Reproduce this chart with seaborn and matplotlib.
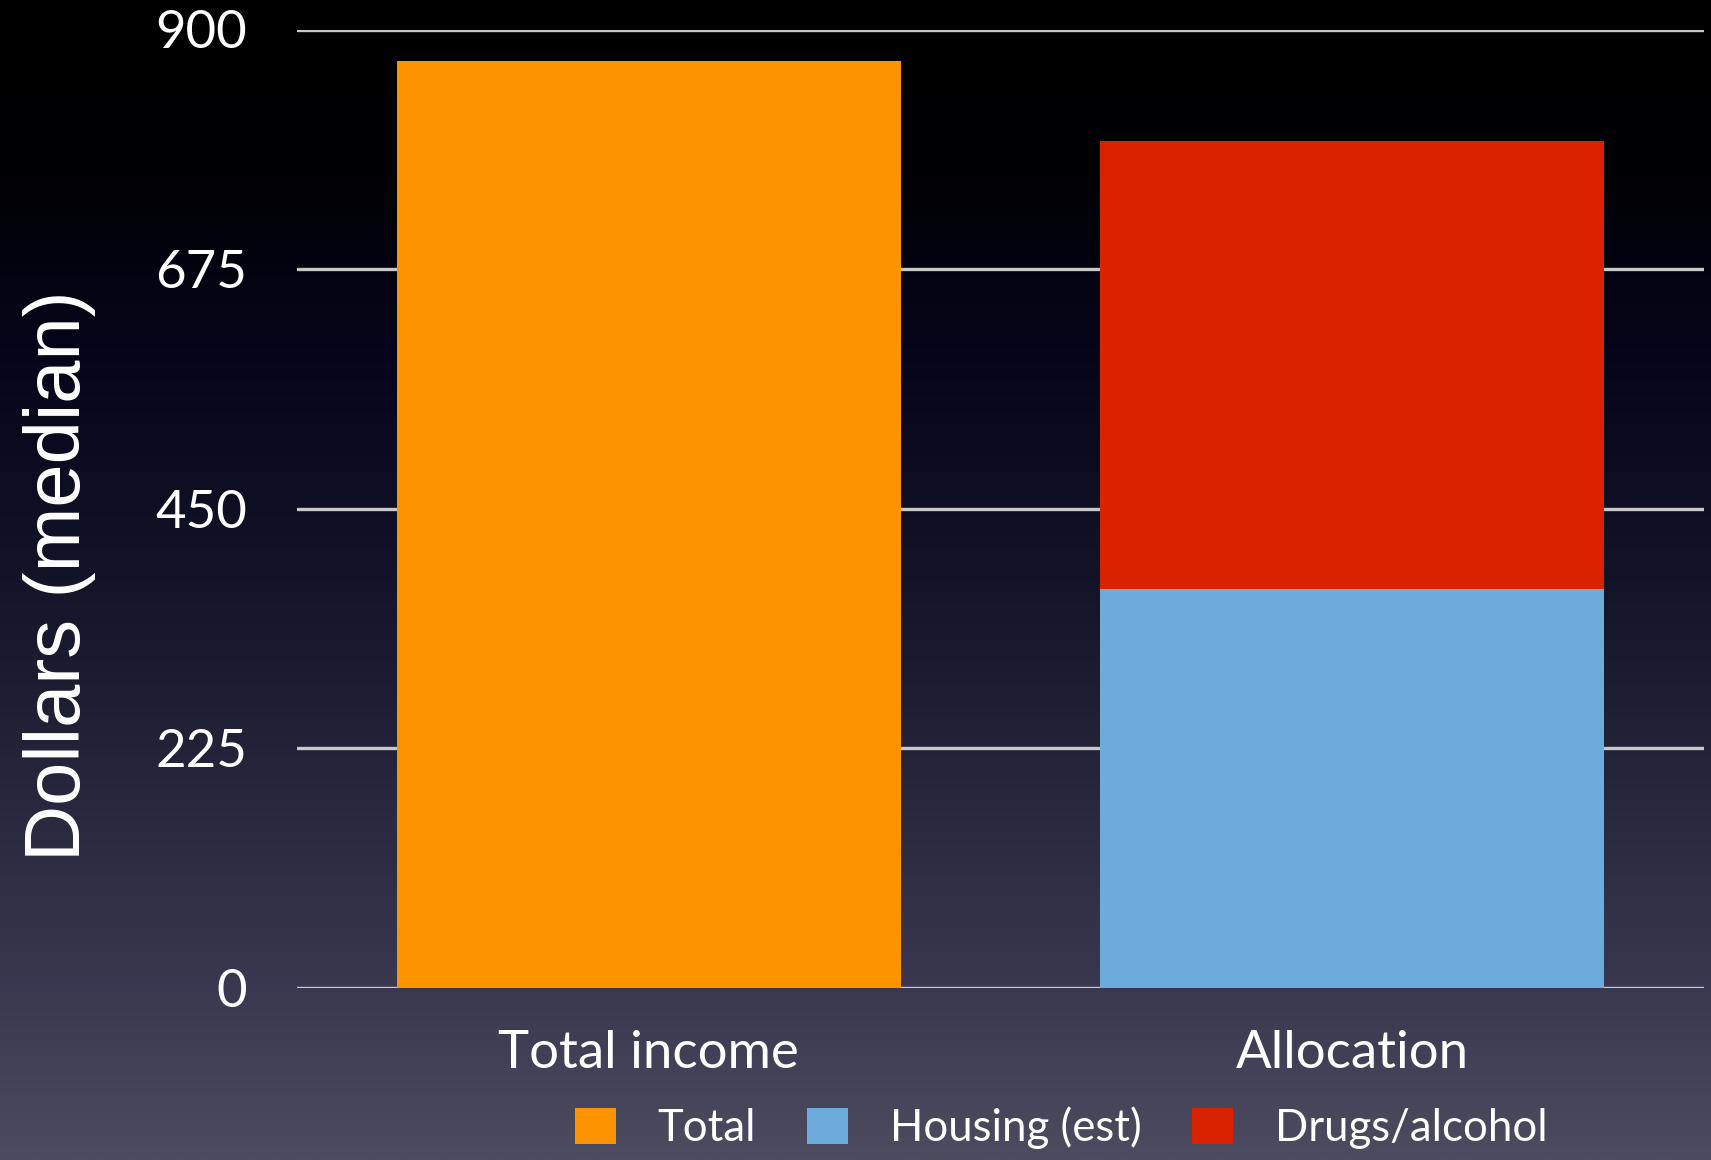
import numpy as np
import pandas as pd
import matplotlib
matplotlib.use("Agg")
import matplotlib.pyplot as plt
from matplotlib.colors import LinearSegmentedColormap
from matplotlib.patches import Patch
import seaborn as sns

# Median dollars per category
categories = ["Total income", "Allocation"]
total_income = [870, 0]
housing_est = [0, 375]
drugs_alcohol = [0, 420]
series_names = ["Total", "Housing (est)", "Drugs/alcohol"]
y_ticks = [0, 225, 450, 675, 900]

colors = {"Total": "#FE9300", "Housing (est)": "#6CABDA", "Drugs/alcohol": "#D92200"}

sns.set_theme(style="white")
plt.rcParams["font.family"] = ["Lato", "DejaVu Sans"]

fig = plt.figure(figsize=(17.11, 11.6), dpi=100)

# Dark vertical gradient backdrop
bg_ax = fig.add_axes([0, 0, 1, 1], zorder=-10)
bg_cmap = LinearSegmentedColormap.from_list(
    "backdrop",
    [(0.0, "#000000"), (0.15, "#010104"), (0.3, "#05051a"), (0.5, "#141428"),
     (0.7, "#28283e"), (0.85, "#393850"), (1.0, "#4c4b5f")],
)
grad = np.linspace(0, 1, 512).reshape(-1, 1)
bg_ax.imshow(grad, aspect="auto", cmap=bg_cmap, extent=[0, 1, 0, 1], origin="upper")
bg_ax.set_axis_off()

ax = fig.add_axes([297 / 1711, 1 - 988 / 1160, (1704 - 297) / 1711, (988 - 29.5) / 1160])
ax.set_facecolor("none")

df = pd.DataFrame({
    "category": categories,
    "Total": total_income,
    "Housing (est)": housing_est,
    "Drugs/alcohol": drugs_alcohol,
})
df["stack_top"] = df["Housing (est)"] + df["Drugs/alcohol"]

bar_w = 0.716
# Stacked allocation: draw the cumulative top first, then the lower segment over it
sns.barplot(data=df, x="category", y="stack_top", color=colors["Drugs/alcohol"],
            width=bar_w, saturation=1, ax=ax, zorder=3, linewidth=0)
sns.barplot(data=df, x="category", y="Housing (est)", color=colors["Housing (est)"],
            width=bar_w, saturation=1, ax=ax, zorder=4, linewidth=0)
sns.barplot(data=df, x="category", y="Total", color=colors["Total"],
            width=bar_w, saturation=1, ax=ax, zorder=5, linewidth=0)

ax.set_xlim(-0.5, 1.5)
ax.set_ylim(0, 900)
ax.set_yticks(y_ticks)
ax.set_yticklabels([str(v) for v in y_ticks])
ax.grid(axis="y", color="#c8c8c8", linewidth=2.4, zorder=1)
ax.set_axisbelow(True)
for s in ax.spines.values():
    s.set_visible(False)

ax.tick_params(axis="y", length=0, pad=36, labelsize=38, labelcolor="white")
ax.tick_params(axis="x", length=0, pad=30, labelsize=38, labelcolor="white")
ax.set_xlabel("")
ax.set_ylabel("Dollars (median)", fontsize=56, color="white",
              family=["Liberation Sans", "DejaVu Sans"])
ax.yaxis.label.set_va("center")
ax.yaxis.label.set_rotation_mode("default")
ax.yaxis.set_label_coords(-(297 - 60) / 1407, 1 - (576 - 29.5) / 958.5)

handles = [Patch(facecolor=colors[n], edgecolor="none", label=n) for n in series_names]
leg = fig.legend(handles=handles, loc="center", bbox_to_anchor=(1061 / 1711, 1 - 1128 / 1160),
                 ncol=3, frameon=False, fontsize=31.5, handlelength=0.95, handleheight=0.9,
                 handletextpad=0.95, columnspacing=1.15, borderpad=0, borderaxespad=0)
for t in leg.get_texts():
    t.set_color("white")

fig.savefig("out.png", dpi=100)
